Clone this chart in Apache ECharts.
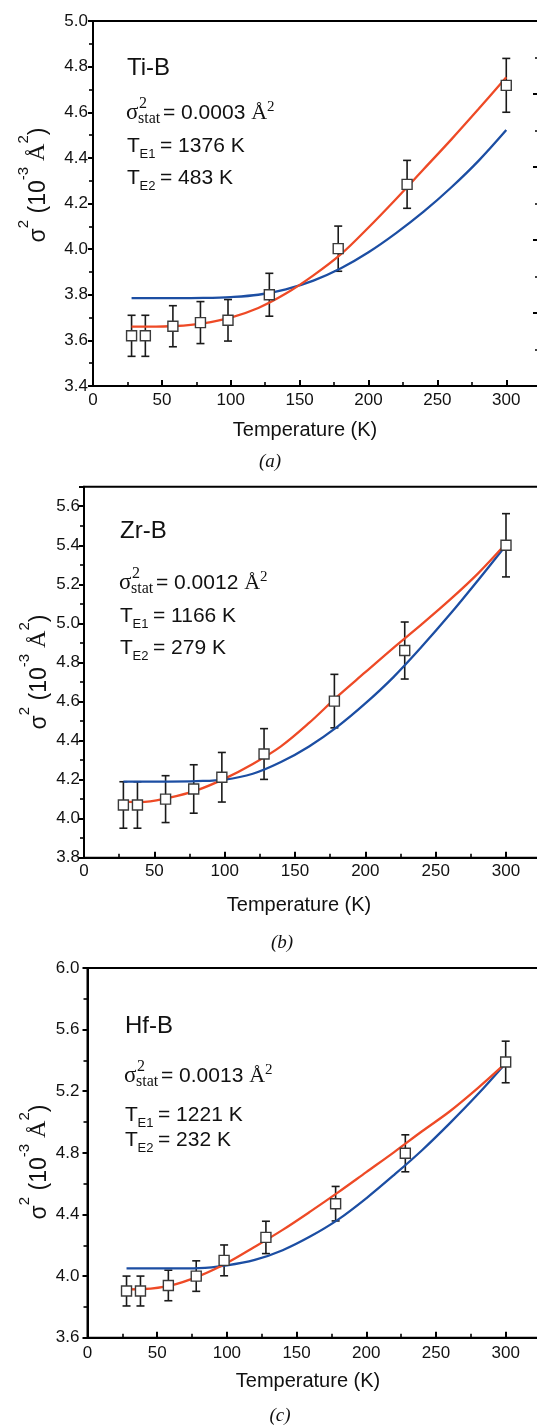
<!DOCTYPE html>
<html>
<head>
<meta charset="utf-8">
<script src="https://cdn.jsdelivr.net/npm/echarts@6/dist/echarts.min.js"></script>
<style>
  html, body { margin: 0; padding: 0; background: #fff; }
  #chart { width: 537px; height: 1426px; }
</style>
</head>
<body>
<div id="chart"></div>
<script>
// measured temperatures (K)
var temps = [28, 38, 58, 78, 98, 128, 178, 228, 300];

// sigma^2 (10^-3 A^2) and error bars
var tiB    = [3.62, 3.62, 3.662, 3.678, 3.688, 3.80, 4.002, 4.284, 4.718];
var tiBErr = [0.09, 0.09, 0.09, 0.092, 0.091, 0.094, 0.099, 0.105, 0.118];
var zrB    = [4.07, 4.07, 4.10, 4.152, 4.212, 4.331, 4.602, 4.861, 5.40];
var zrBErr = [0.119, 0.119, 0.12, 0.124, 0.127, 0.13, 0.137, 0.146, 0.162];
var hfB    = [3.903, 3.903, 3.939, 4.0, 4.102, 4.251, 4.47, 4.797, 5.39];
var hfBErr = [0.097, 0.097, 0.099, 0.099, 0.10, 0.105, 0.112, 0.12, 0.135];

// fitted curves
var fitT      = [28, 40, 60, 80, 100, 120, 140, 160, 180, 200, 220, 240, 260, 280, 300];
var tiBRed    = [3.66, 3.66, 3.663, 3.675, 3.70, 3.742, 3.805, 3.885, 3.978, 4.095, 4.22, 4.35, 4.48, 4.615, 4.753];
var tiBBlue   = [3.785, 3.785, 3.785, 3.786, 3.79, 3.80, 3.824, 3.862, 3.916, 3.986, 4.07, 4.164, 4.27, 4.388, 4.522];
var zrBRed    = [4.087, 4.085, 4.107, 4.145, 4.205, 4.28, 4.37, 4.49, 4.625, 4.75, 4.875, 4.995, 5.12, 5.255, 5.409];
var zrBBlue   = [4.19, 4.19, 4.19, 4.192, 4.2, 4.23, 4.29, 4.37, 4.47, 4.59, 4.725, 4.88, 5.045, 5.22, 5.40];
var hfBRed    = [3.914, 3.916, 3.94, 4.0, 4.085, 4.19, 4.30, 4.42, 4.545, 4.675, 4.805, 4.94, 5.07, 5.22, 5.382];
var hfBBlue   = [4.05, 4.05, 4.05, 4.052, 4.07, 4.105, 4.168, 4.258, 4.368, 4.505, 4.657, 4.817, 4.993, 5.18, 5.382];

// y axis ranges / tick steps
var yMin  = [3.4, 3.8, 3.6];
var yMax  = [5.0, 5.7, 6.0];
var yStep = [0.2, 0.2, 0.4];
var yLabelTop = [5.0, 5.6, 6.0];

// panel texts
var names   = ['Ti-B', 'Zr-B', 'Hf-B'];
var sigStat = ['0.0003', '0.0012', '0.0013'];
var te1     = ['1376', '1166', '1221'];
var te2     = ['483', '279', '232'];
var tags    = ['(a)', '(b)', '(c)'];

var RED = '#ee4a26', BLUE = '#1c4ea3';
var SANS = '"Liberation Sans", Arial, sans-serif';
var SERIF = '"Liberation Serif", "Times New Roman", serif';

var panels = [
  { left: 93,   top: 21,    height: 365,   width: 454.6, lblMargin: 5, xMargin: 6,
    vals: tiB, errs: tiBErr, red: tiBRed, blue: tiBBlue,
    noteX: 127, nameY: 68, sigY: 112, t1Y: 146, t2Y: 178,
    titleX: 33, titleY: 185, xNameX: 305, xNameY: 430, tagX: 270, tagY: 462 },
  { left: 84,   top: 486.7, height: 371,   width: 464.2, lblMargin: 4, xMargin: 5,
    vals: zrB, errs: zrBErr, red: zrBRed, blue: zrBBlue,
    noteX: 120, nameY: 531, sigY: 582, t1Y: 616, t2Y: 648,
    titleX: 34, titleY: 672, xNameX: 299, xNameY: 905, tagX: 282, tagY: 943 },
  { left: 87.5, top: 968,   height: 369.7, width: 460,   lblMargin: 8, xMargin: 7,
    vals: hfB, errs: hfBErr, red: hfBRed, blue: hfBBlue,
    noteX: 125, nameY: 1026, sigY: 1075, t1Y: 1115, t2Y: 1140,
    titleX: 34, titleY: 1162, xNameX: 308, xNameY: 1381, tagX: 280, tagY: 1416 }
];

function pairs(xs, ys) {
  return xs.map(function (x, i) { return [x, ys[i]]; });
}

function errorBar(params, api) {
  var x = api.value(0), y = api.value(1), e = api.value(2);
  var hi = api.coord([x, y + e]);
  var lo = api.coord([x, y - e]);
  var w = 4;
  var st = { stroke: '#1a1a1a', lineWidth: 1.6 };
  return {
    type: 'group',
    children: [
      { type: 'line', shape: { x1: hi[0], y1: hi[1], x2: lo[0], y2: lo[1] }, style: st },
      { type: 'line', shape: { x1: hi[0] - w, y1: hi[1], x2: hi[0] + w, y2: hi[1] }, style: st },
      { type: 'line', shape: { x1: lo[0] - w, y1: lo[1], x2: lo[0] + w, y2: lo[1] }, style: st }
    ]
  };
}

function txt(x, y, text, font, extra) {
  var el = {
    type: 'text', x: x, y: y, z: 10,
    style: { text: text, font: font, fill: '#111',
             textAlign: 'left', textVerticalAlign: 'middle', align: 'left', verticalAlign: 'middle' }
  };
  if (extra) for (var k in extra) el.style[k] = extra[k];
  return el;
}

var grids = [], xAxes = [], yAxes = [], series = [], graphics = [];

panels.forEach(function (p, i) {
  grids.push({ left: p.left, top: p.top, width: p.width, height: p.height,
               show: true, borderColor: '#000', borderWidth: 2, backgroundColor: 'transparent',
               outerBoundsMode: 'none', containLabel: false });
  xAxes.push({
    type: 'value', gridIndex: i, min: 0, max: 330, interval: 50,
    axisLine: { show: true, lineStyle: { color: '#000', width: 2 } },
    axisTick: { show: true, inside: true, length: 6, lineStyle: { color: '#000', width: 2 } },
    minorTick: { show: true, splitNumber: 2, length: 4, lineStyle: { color: '#000', width: 1.6 } },
    splitLine: { show: false },
    axisLabel: { color: '#111', fontSize: 17, fontFamily: SANS, margin: p.xMargin,
                 formatter: function (v) { return v % 50 === 0 && v <= 300 ? String(v) : ''; } }
  });
  yAxes.push({
    type: 'value', gridIndex: i, min: yMin[i], max: yMax[i], interval: yStep[i],
    axisLine: { show: true, lineStyle: { color: '#000', width: 2 } },
    axisTick: { show: true, inside: false, length: 5, lineStyle: { color: '#000', width: 2 } },
    minorTick: { show: true, splitNumber: 2, length: 4, lineStyle: { color: '#000', width: 1.6 } },
    splitLine: { show: false },
    axisLabel: { color: '#111', fontSize: 17, fontFamily: SANS, margin: p.lblMargin,
                 formatter: function (v) { return v > yLabelTop[i] + 1e-6 ? '' : v.toFixed(1); } }
  });

  series.push({
    type: 'custom', xAxisIndex: i, yAxisIndex: i, z: 2,
    renderItem: errorBar, encode: { x: 0, y: 1 },
    data: temps.map(function (t, j) { return [t, p.vals[j], p.errs[j]]; })
  });
  series.push({
    type: 'line', xAxisIndex: i, yAxisIndex: i, z: 3, smooth: 0.35, symbol: 'none',
    lineStyle: { color: BLUE, width: 2.3 }, data: pairs(fitT, p.blue)
  });
  series.push({
    type: 'line', xAxisIndex: i, yAxisIndex: i, z: 3, smooth: 0.35, symbol: 'none',
    lineStyle: { color: RED, width: 2.3 }, data: pairs(fitT, p.red)
  });
  series.push({
    type: 'scatter', xAxisIndex: i, yAxisIndex: i, z: 4, symbol: 'rect', symbolSize: 10,
    itemStyle: { color: '#fff', borderColor: '#3a3a3a', borderWidth: 1.4, opacity: 1 },
    data: pairs(temps, p.vals)
  });

  // annotations inside the frame
  var x0 = p.noteX;
  graphics.push(txt(x0, p.nameY, names[i], '24px ' + SANS));
  graphics.push(txt(x0 - 1, p.sigY + 1, 'σ', '23px ' + SERIF));
  graphics.push(txt(x0 + 12, p.sigY - 8, '2', '16px ' + SERIF));
  graphics.push(txt(x0 + 11, p.sigY + 7, 'stat', '16px ' + SERIF));
  graphics.push(txt(x0 + 36, p.sigY, '{n|= ' + sigStat[i] + ' }{a|Å}{p|2}', '21px ' + SANS, {
    rich: {
      n: { fontSize: 21, fontFamily: SANS, lineHeight: 24, verticalAlign: 'bottom', fill: '#111', color: '#111' },
      a: { fontSize: 22, fontFamily: SERIF, lineHeight: 24, verticalAlign: 'bottom', fill: '#111', color: '#111' },
      p: { fontSize: 15, fontFamily: SERIF, lineHeight: 5, verticalAlign: 'top', fill: '#111', color: '#111' }
    }
  }));
  [[p.t1Y, 'E1', te1[i]], [p.t2Y, 'E2', te2[i]]].forEach(function (r) {
    graphics.push(txt(x0, r[0], 'T', '21px ' + SANS));
    graphics.push(txt(x0 + 12.5, r[0] + 8, r[1], '13px ' + SANS));
    graphics.push(txt(x0 + 33, r[0], '= ' + r[2] + ' K', '21px ' + SANS));
  });

  // axis names and panel tag
  graphics.push(txt(p.xNameX, p.xNameY, 'Temperature (K)', '20px ' + SANS, { textAlign: 'center', align: 'center' }));
  graphics.push(txt(p.tagX, p.tagY, tags[i], 'italic 19px ' + SERIF, { textAlign: 'center', align: 'center' }));
  var yt = txt(p.titleX, p.titleY, '{m|σ}{p|2}{m| (10}{p|-3}{a| Å}{p|2}{m|)}', '23px ' + SANS, {
    textAlign: 'center', align: 'center',
    rich: {
      m: { fontSize: 23, fontFamily: SANS, lineHeight: 34, verticalAlign: 'bottom', fill: '#111', color: '#111' },
      a: { fontSize: 24, fontFamily: SERIF, lineHeight: 34, verticalAlign: 'bottom', fill: '#111', color: '#111' },
      p: { fontSize: 15, fontFamily: SANS, lineHeight: 10, verticalAlign: 'top', fill: '#111', color: '#111' }
    }
  });
  yt.rotation = Math.PI / 2;
  graphics.push(yt);
});

// cropped axis of the neighbouring figure at the right edge of panel (a)
grids.push({ left: 538, top: 21, width: 60, height: 365, show: false, outerBoundsMode: 'none' });
xAxes.push({ type: 'value', gridIndex: 3, show: false, min: 0, max: 1 });
yAxes.push({
  type: 'value', gridIndex: 3, min: 0, max: 5, interval: 1,
  axisLine: { show: false },
  axisTick: { show: true, inside: false, length: 5, lineStyle: { color: '#000', width: 2 } },
  minorTick: { show: true, splitNumber: 2, length: 3, lineStyle: { color: '#000', width: 1.6 } },
  splitLine: { show: false },
  axisLabel: { show: false }
});

var chart = echarts.init(document.getElementById('chart'), null, { renderer: 'canvas' });
chart.setOption({
  backgroundColor: '#fff',
  animation: false,
  grid: grids,
  xAxis: xAxes,
  yAxis: yAxes,
  series: series,
  graphic: { elements: graphics }
});
</script>
</body>
</html>
